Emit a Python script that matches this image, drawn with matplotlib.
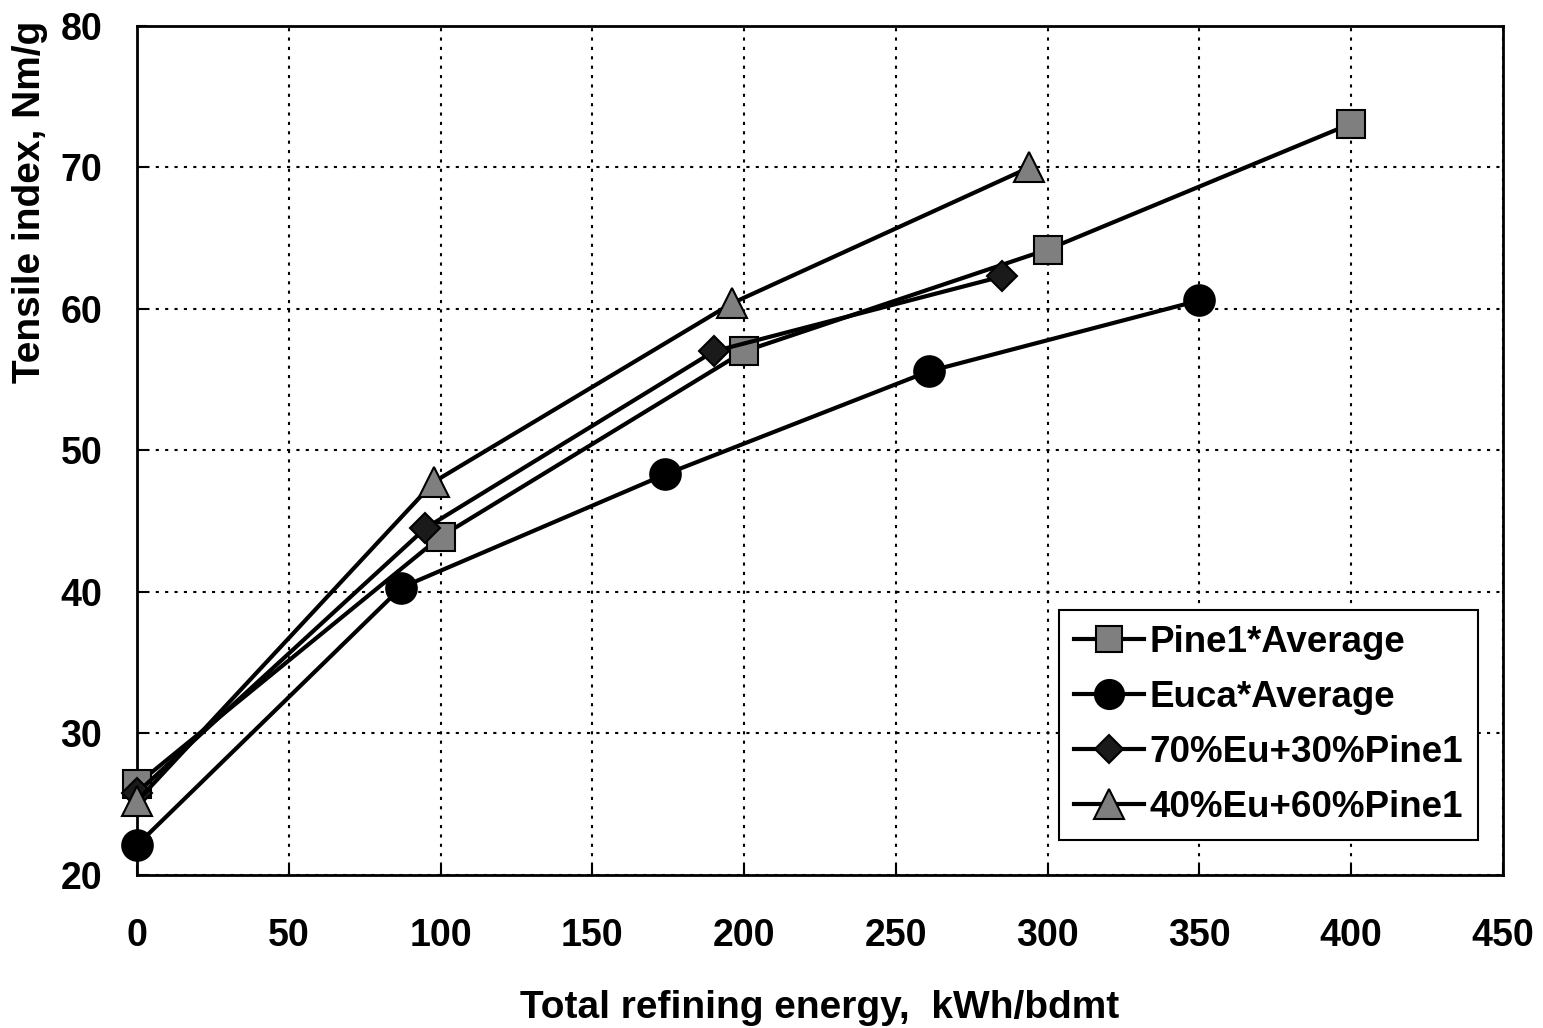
import matplotlib
matplotlib.use('Agg')
import matplotlib.pyplot as plt

plt.rcParams['font.family'] = ['Liberation Sans', 'DejaVu Sans']
plt.rcParams['font.weight'] = 'bold'

# energia de refinado (kWh/bdmt) y indice de traccion (Nm/g)
pine_x = [0, 100, 200, 300, 400]
pine_y = [26.4, 43.9, 57.0, 64.2, 73.1]

euca_x = [0, 87, 174, 261, 350]
euca_y = [22.1, 40.3, 48.3, 55.6, 60.6]

mix70_x = [0, 95, 190, 285]
mix70_y = [25.8, 44.5, 57.0, 62.3]

mix40_x = [0, 98, 196, 294]
mix40_y = [25.2, 47.8, 60.4, 70.0]

labels = ['Pine1*Average', 'Euca*Average', '70%Eu+30%Pine1', '40%Eu+60%Pine1']
xticks = [0, 50, 100, 150, 200, 250, 300, 350, 400, 450]
yticks = [20, 30, 40, 50, 60, 70, 80]

gris = '#7f7f7f'

fig = plt.figure(figsize=(15.43, 10.28), dpi=100)
ax = fig.add_axes([0.0888, 0.149, 0.8852, 0.8257])

series = [
    (pine_x, pine_y, 's', gris, 20),
    (euca_x, euca_y, 'o', 'black', 22),
    (mix70_x, mix70_y, 'D', '#1a1a1a', 15),
    (mix40_x, mix40_y, '^', gris, 22),
]
for (xs, ys, mk, fc, ms), lab in zip(series, labels):
    ax.plot(xs, ys, '-', color='black', lw=3, marker=mk, ms=ms,
            mfc=fc, mec='black', mew=1.5, label=lab, clip_on=False, zorder=3)

ax.set_xlim(0, 450)
ax.set_ylim(20, 80)
ax.set_xticks(xticks)
ax.set_yticks(yticks)
ax.tick_params(axis='x', labelsize=27, length=7, width=1.5, direction='in', pad=31)
ax.tick_params(axis='y', labelsize=27, length=7, width=1.5, direction='in', pad=25)
ax.grid(True, color='black', linestyle=(0, (1.5, 3)), lw=1.5)
for s in ax.spines.values():
    s.set_linewidth(2)

ax.set_xlabel('Total refining energy,  kWh/bdmt', fontsize=28, fontweight='bold', labelpad=26)
ax.set_ylabel('Tensile index, Nm/g', fontsize=28, fontweight='bold')
# la etiqueta del eje y va desplazada hacia arriba
ax.yaxis.set_label_coords(-0.065, 0.793)

leg = ax.legend(loc='lower right', bbox_to_anchor=(0.9817, 0.041), borderaxespad=0,
                fontsize=26.5, frameon=True, fancybox=False, edgecolor='black',
                framealpha=1, handlelength=1.9, handletextpad=0.15, borderpad=0.4,
                labelspacing=0.55, markerscale=0.95)
leg.get_frame().set_linewidth(1.5)

fig.savefig('out.png', dpi=100)
